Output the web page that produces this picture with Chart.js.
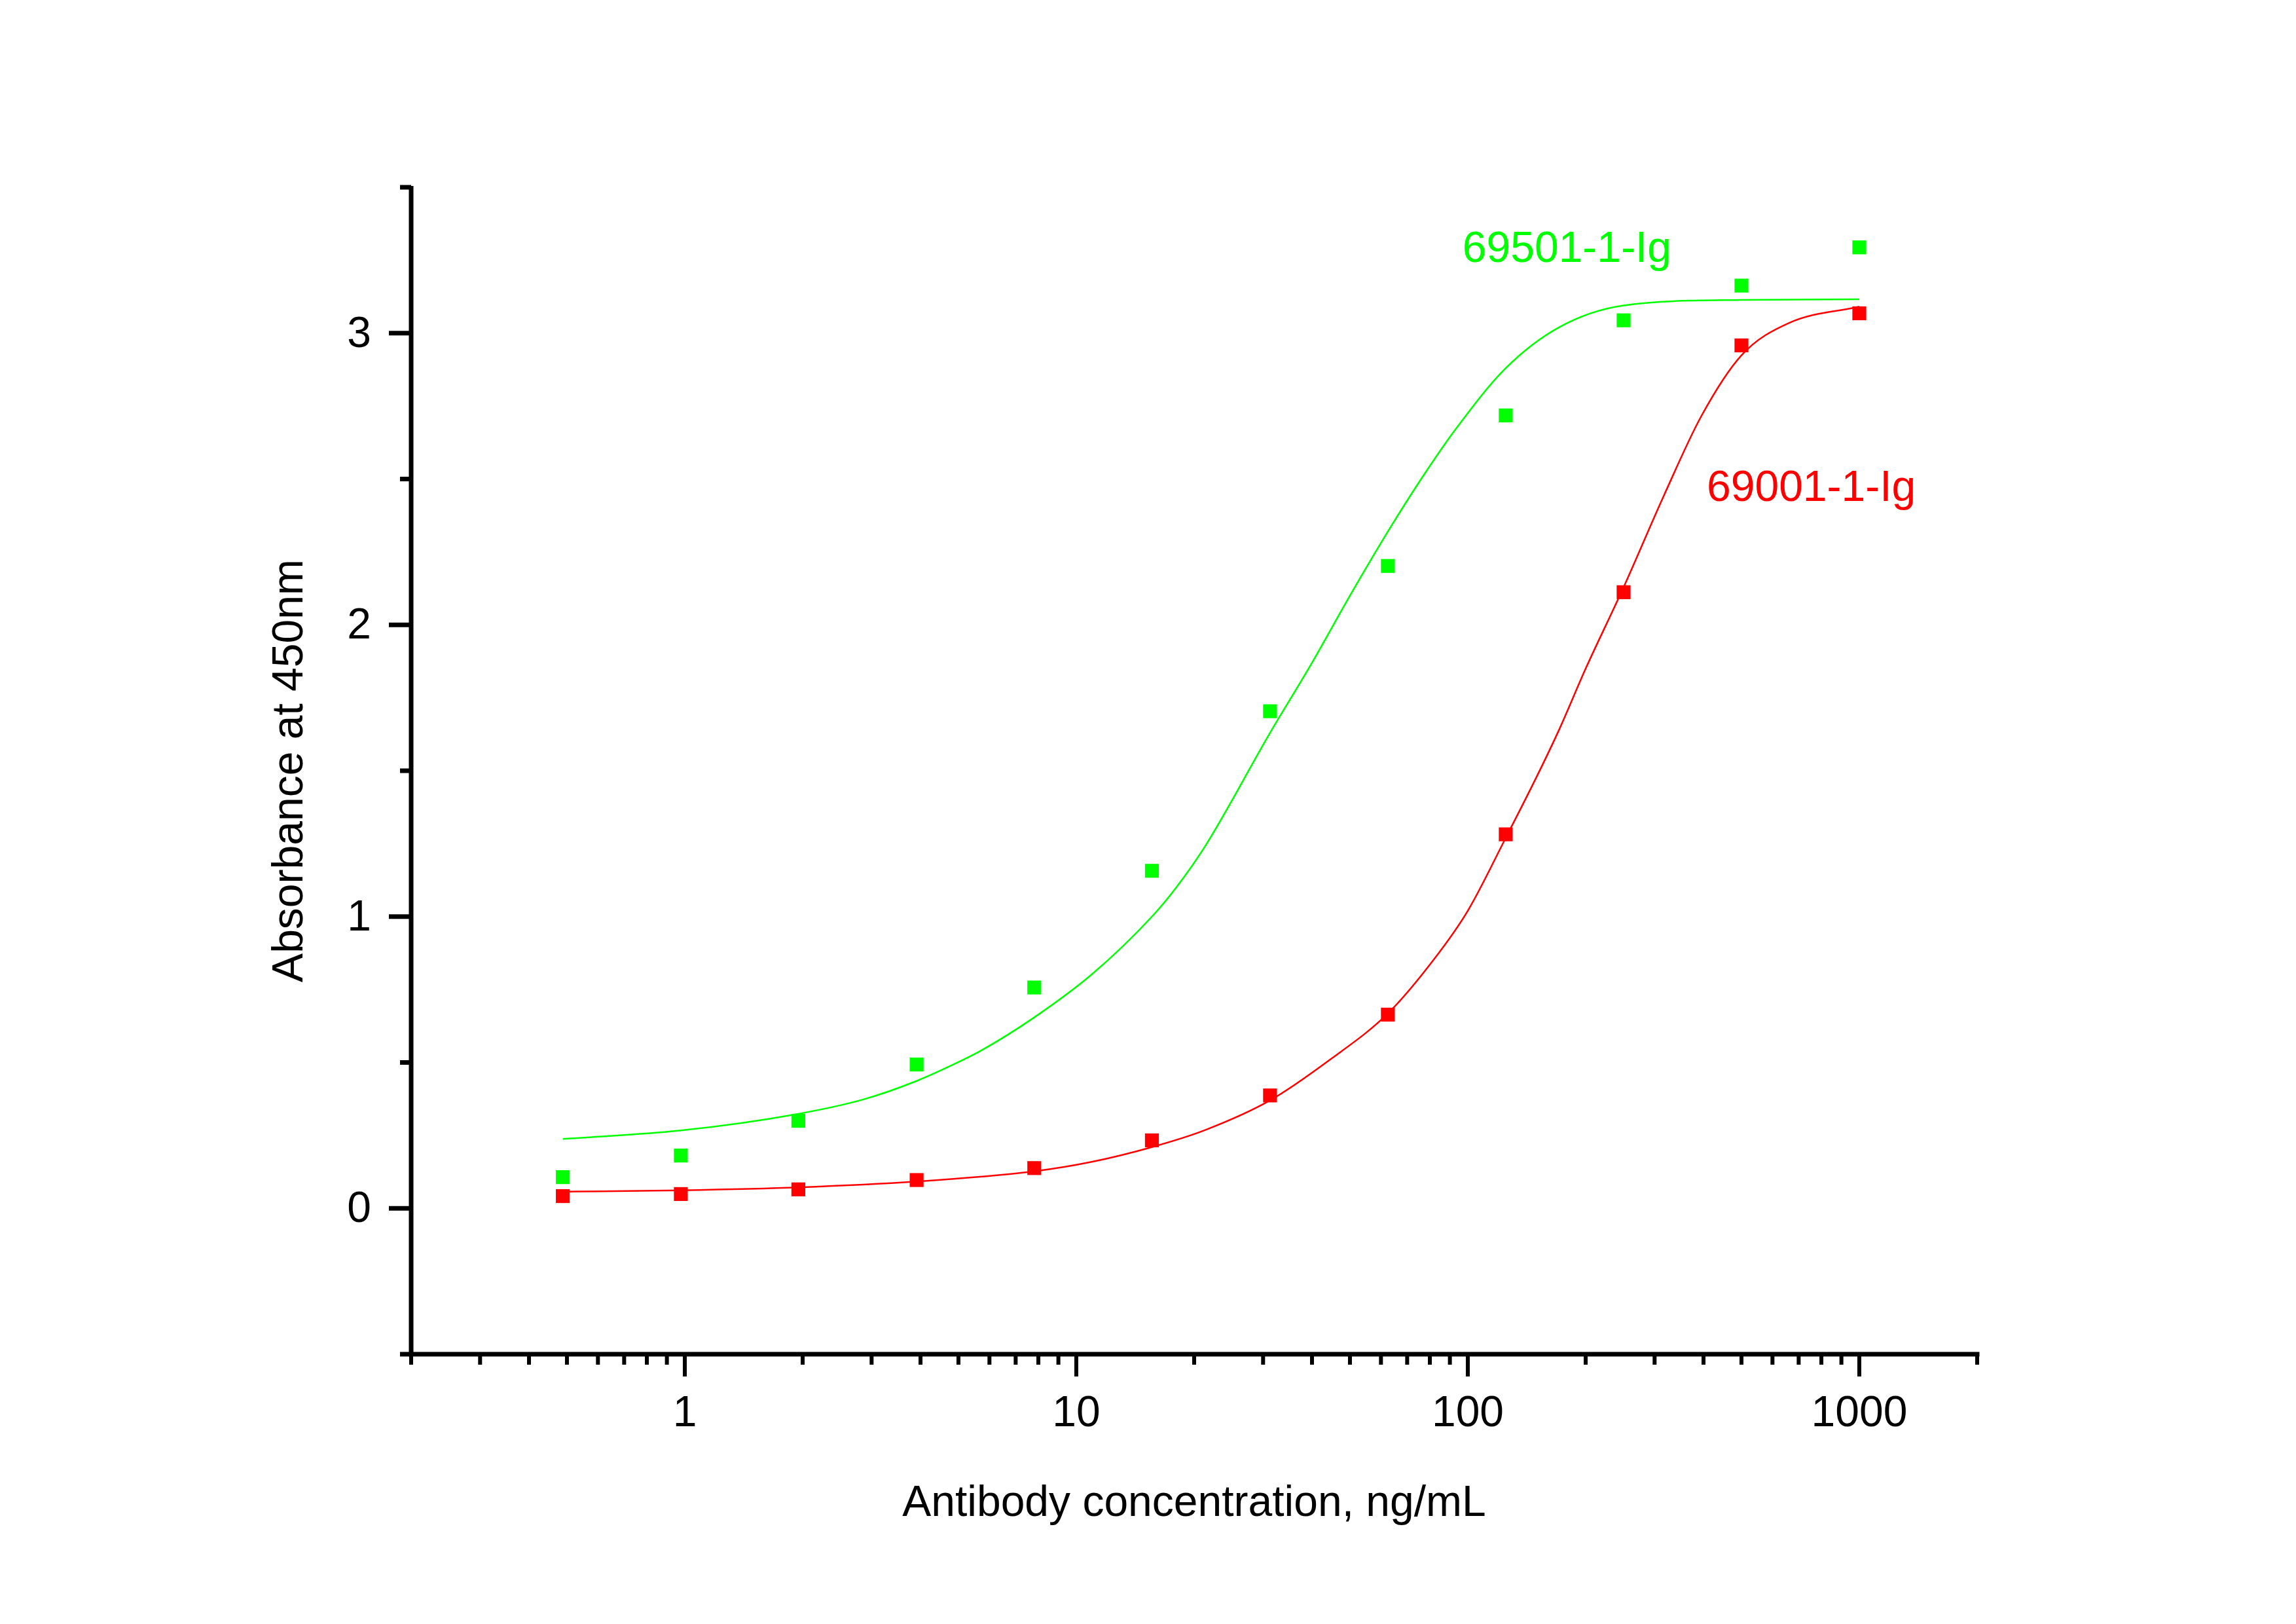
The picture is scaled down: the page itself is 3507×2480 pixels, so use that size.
<!DOCTYPE html>
<html>
<head>
<meta charset="utf-8">
<title>Antibody ELISA</title>
<script src="https://cdn.jsdelivr.net/npm/chart.js@4.4.1/dist/chart.umd.min.js"></script>
<style>
    html, body { margin: 0; padding: 0; background: #ffffff; }
    canvas { display: block; }
</style>
</head>
<body>
<canvas id="elisaChart" width="3507" height="2480"></canvas>
<script>
// dilution series, ng/mL
const concentrations = [0.488, 0.977, 1.95, 3.91, 7.81, 15.6, 31.25, 62.5, 125, 250, 500, 1000];

// measured absorbance at 450nm
const abs69501 = [0.107, 0.181, 0.300, 0.493, 0.757, 1.157, 1.704, 2.202, 2.718, 3.044, 3.163, 3.294];
const abs69001 = [0.042, 0.049, 0.065, 0.097, 0.138, 0.233, 0.387, 0.664, 1.282, 2.112, 2.958, 3.068];

// fitted curves
const fitX69501 = [0.488, 0.977, 1.95, 2.87, 3.9, 4.8, 5.7, 7.8, 11, 15.6, 18, 21.3, 31.25, 40, 50, 62.5, 76, 93, 125, 171, 250, 500, 1000];
const fit69501 = [0.238, 0.267, 0.324, 0.374, 0.436, 0.49, 0.54, 0.654, 0.804, 1.0, 1.10, 1.24, 1.63, 1.87, 2.10, 2.32, 2.50, 2.67, 2.88, 3.02, 3.095, 3.114, 3.116];
const fitX69001 = [0.488, 0.977, 1.95, 3.9, 7.8, 11, 15.6, 21.3, 31.25, 44.5, 62.5, 82, 100, 125, 150, 171, 200, 250, 317, 395, 500, 662, 1000];
const fit69001 = [0.057, 0.062, 0.072, 0.092, 0.127, 0.160, 0.210, 0.268, 0.370, 0.510, 0.668, 0.854, 1.02, 1.27, 1.48, 1.64, 1.85, 2.129, 2.444, 2.716, 2.924, 3.035, 3.091];

const seriesNames = ['69501-1-Ig', '69001-1-Ig'];
const seriesColors = ['#00ff00', '#ff0000'];

// axis ticks
const xMajorTicks = [1, 10, 100, 1000];
const xTickLabels = ['1', '10', '100', '1000'];
const yMajorTicks = [0, 1, 2, 3];
const yTickLabels = ['0', '1', '2', '3'];
const yMinorTicks = [-0.5, 0.5, 1.5, 2.5, 3.5];

const xTitle = 'Antibody concentration, ng/mL';
const yTitle = 'Absorbance at 450nm';

const FONT = '66px "Liberation Sans", Arial, Helvetica, sans-serif';

function toPoints(xs, ys) {
    return xs.map((x, i) => ({ x: x, y: ys[i] }));
}

function xMinorTicks() {
    const out = [];
    [0.1, 1, 10, 100, 1000].forEach(decade => {
        for (let m = 2; m <= 9; m++) {
            const v = m * decade;
            if (v >= 0.2 && v <= 2000) out.push(v);
        }
    });
    return out;
}

// axes, ticks, titles and curve labels, drawn in the Origin style
const originAxes = {
    id: 'originAxes',
    afterDraw(chart) {
        const ctx = chart.ctx;
        const xs = chart.scales.x;
        const ys = chart.scales.y;
        const left = xs.getPixelForValue(0.2);
        const right = xs.getPixelForValue(2000);
        const top = ys.getPixelForValue(3.5);
        const bottom = ys.getPixelForValue(-0.5);

        ctx.save();
        ctx.strokeStyle = '#000';
        ctx.fillStyle = '#000';
        ctx.lineCap = 'butt';

        // axis lines
        ctx.lineWidth = 7;
        ctx.beginPath();
        ctx.moveTo(left, top - 2);
        ctx.lineTo(left, bottom + 3.5);
        ctx.moveTo(left - 3.5, bottom);
        ctx.lineTo(right + 3.5, bottom);
        ctx.stroke();

        // y ticks
        ctx.lineWidth = 7;
        ctx.beginPath();
        yMajorTicks.forEach(v => {
            const y = ys.getPixelForValue(v);
            ctx.moveTo(left - 34, y);
            ctx.lineTo(left, y);
        });
        yMinorTicks.forEach(v => {
            const y = ys.getPixelForValue(v);
            ctx.moveTo(left - 17, y);
            ctx.lineTo(left, y);
        });
        ctx.stroke();

        // x ticks
        ctx.lineWidth = 6;
        ctx.beginPath();
        xMajorTicks.forEach(v => {
            const x = xs.getPixelForValue(v);
            ctx.moveTo(x, bottom);
            ctx.lineTo(x, bottom + 34);
        });
        xMinorTicks().forEach(v => {
            const x = xs.getPixelForValue(v);
            ctx.moveTo(x, bottom);
            ctx.lineTo(x, bottom + 16);
        });
        ctx.stroke();

        // tick labels
        ctx.font = FONT;
        ctx.textBaseline = 'alphabetic';
        ctx.textAlign = 'right';
        yMajorTicks.forEach((v, i) => {
            ctx.fillText(yTickLabels[i], left - 61, ys.getPixelForValue(v) + 21);
        });
        ctx.textAlign = 'center';
        xMajorTicks.forEach((v, i) => {
            ctx.fillText(xTickLabels[i], xs.getPixelForValue(v), bottom + 110);
        });

        // axis titles
        ctx.fillText(xTitle, (left + right) / 2, bottom + 247);
        ctx.save();
        ctx.translate(left - 166, (top + bottom) / 2);
        ctx.rotate(-Math.PI / 2);
        ctx.fillText(yTitle, 0, 0);
        ctx.restore();

        // curve labels
        ctx.textAlign = 'left';
        ctx.fillStyle = seriesColors[0];
        ctx.fillText(seriesNames[0], xs.getPixelForValue(96.9), ys.getPixelForValue(3.243));
        ctx.fillStyle = seriesColors[1];
        ctx.fillText(seriesNames[1], xs.getPixelForValue(407.8), ys.getPixelForValue(2.424));

        ctx.restore();
    }
};

function initializeElisaChart() {
    const ctx = document.getElementById('elisaChart');
    if (!ctx) return;

    const fitStyle = (color) => ({
        showLine: true,
        borderColor: color,
        backgroundColor: color,
        borderWidth: 2.5,
        pointRadius: 0,
        pointHoverRadius: 0,
        cubicInterpolationMode: 'monotone',
        fill: false,
        order: 2
    });
    const pointStyle = (color) => ({
        showLine: false,
        pointStyle: 'rect',
        pointRadius: 15,
        pointBorderWidth: 0,
        borderColor: color,
        backgroundColor: color,
        order: 1
    });

    new Chart(ctx, {
        type: 'scatter',
        data: {
            datasets: [
                Object.assign({ label: seriesNames[0] + ' fit', data: toPoints(fitX69501, fit69501) }, fitStyle(seriesColors[0])),
                Object.assign({ label: seriesNames[1] + ' fit', data: toPoints(fitX69001, fit69001) }, fitStyle(seriesColors[1])),
                Object.assign({ label: seriesNames[0], data: toPoints(concentrations, abs69501) }, pointStyle(seriesColors[0])),
                Object.assign({ label: seriesNames[1], data: toPoints(concentrations, abs69001) }, pointStyle(seriesColors[1]))
            ]
        },
        options: {
            responsive: false,
            animation: false,
            devicePixelRatio: 1,
            layout: {
                padding: { top: 286, bottom: 112, left: 300, right: 487 }
            },
            plugins: {
                legend: { display: false },
                tooltip: { enabled: false }
            },
            scales: {
                x: {
                    type: 'logarithmic',
                    min: 0.2,
                    max: 2000,
                    grid: { display: false },
                    border: { display: false },
                    ticks: { display: false },
                    afterFit: (scale) => { scale.height = 300; }
                },
                y: {
                    type: 'linear',
                    min: -0.5,
                    max: 3.5,
                    grid: { display: false },
                    border: { display: false },
                    ticks: { display: false },
                    afterFit: (scale) => { scale.width = 328; }
                }
            }
        },
        plugins: [originAxes]
    });
}

document.addEventListener('DOMContentLoaded', function () {
    initializeElisaChart();
});
</script>
</body>
</html>
